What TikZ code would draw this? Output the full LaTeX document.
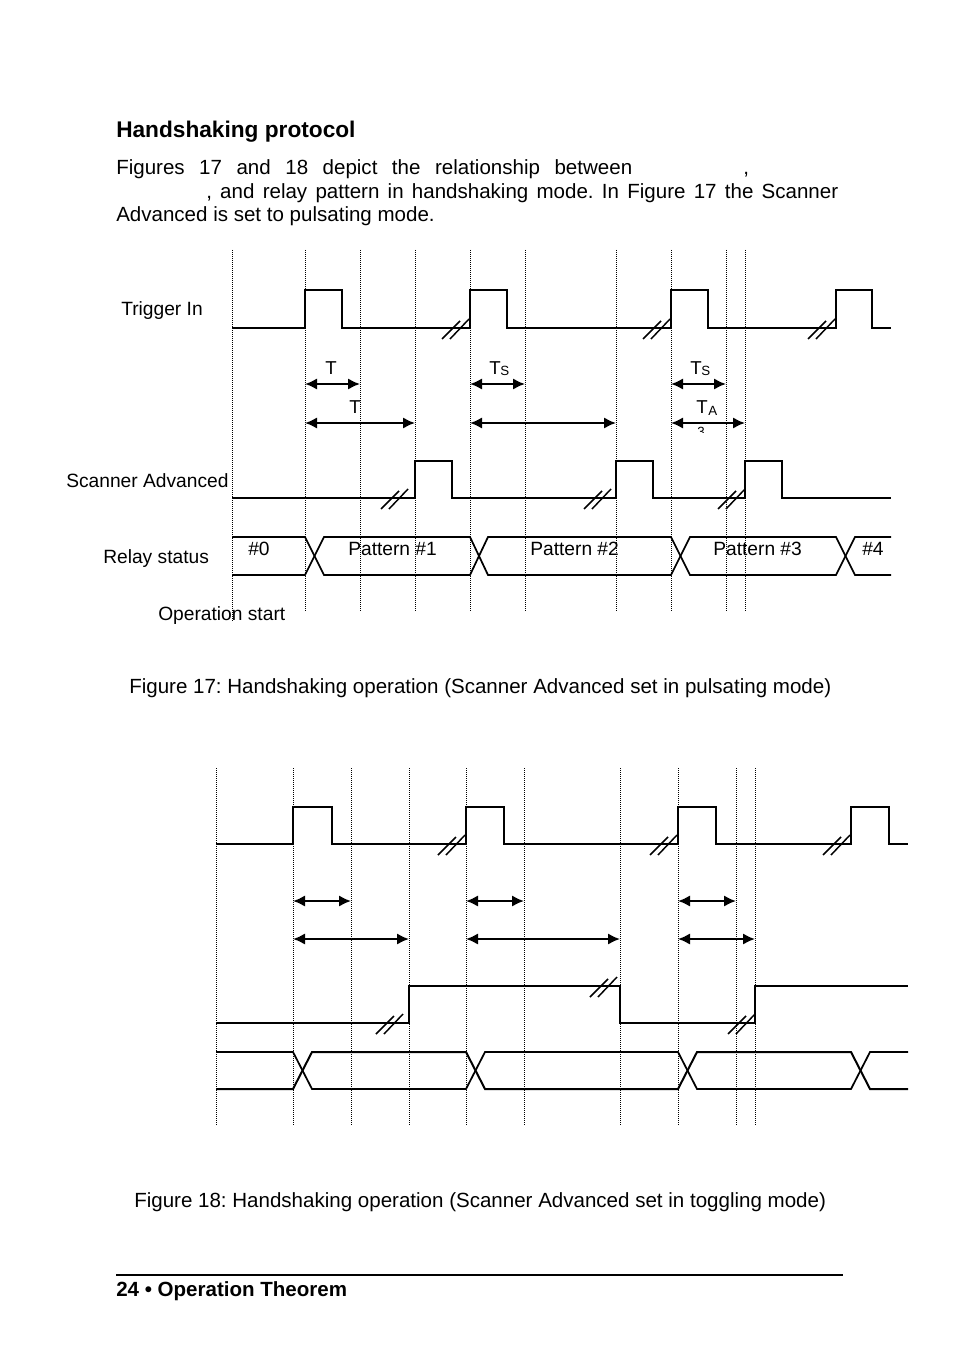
\documentclass[tikz,border=0pt]{standalone}
\usepackage{fontspec}
\setmainfont{Liberation Sans}
\usetikzlibrary{arrows.meta}
\frenchspacing
\newcommand{\brkmark}[2]{%
  \draw[brk] ({#1-27},{#2+11}) -- ({#1-9},{#2-7});
  \draw[brk] ({#1-19},{#2+11}) -- ({#1},{#2-9});}
\begin{document}
\frenchspacing
\begin{tikzpicture}[x=0.75pt,y=-0.75pt,
  sig/.style={line width=1.5pt, line join=miter},
  rel/.style={line width=1.3pt, line join=miter},
  vgrid/.style={line width=0.75pt, dash pattern=on 0.75pt off 0.75pt, black},
  dimarrow/.style={line width=1.6pt, {Latex[length=9pt,width=8.5pt]}-{Latex[length=9pt,width=8.5pt]}},
  brk/.style={line width=1.1pt},
  lbl/.style={font=\fontsize{14.4}{17}\selectfont, inner sep=0pt, anchor=base west},
  body/.style={font=\fontsize{15.4}{18}\selectfont, inner sep=0pt, anchor=base west},
  tlbl/.style={font=\fontsize{14}{16}\selectfont, inner sep=0pt, anchor=base west},
  subs/.style={font=\fontsize{10}{12}\selectfont, inner sep=0pt, anchor=base west}]
\useasboundingbox (0,0) rectangle (954,1358);

% ---------- text ----------
\node[body, font=\fontsize{17}{20}\selectfont\bfseries] (head) at (116,138) {Handshaking protocol};
\node[body] (l1) at (116,175) {\makebox[387pt][s]{Figures 17 and 18 depict the relationship between}};
\node[body] (l1c) at (743,175) {,};
\node[body] (l2) at (206,199) {\makebox[474pt][s]{, and relay pattern in handshaking mode. In Figure 17 the Scanner}};
\node[body] (l3) at (116,222) {Advanced is set to pulsating mode.};

% ---------- Figure 17 ----------
\foreach \xx in {305,360,415,470,525,616,671,726,745} {\draw[vgrid] (\xx,250) -- (\xx,612);}
\draw[vgrid] (232,250) -- (232,622);

\node[lbl] (trig) at (121,316) {Trigger In};
\node[lbl] (scan) at (66,487) {Scanner Advanced};
\node[lbl] (relay) at (103,563) {Relay status};
\node[lbl] (opst) at (158,620) {Operation start};

\draw[sig] (232,328) -- (305,328) -- (305,290) -- (342,290) -- (342,328) -- (470,328) -- (470,290) -- (507,290) -- (507,328)
  -- (671,328) -- (671,290) -- (708,290) -- (708,328) -- (836,328) -- (836,290) -- (872,290) -- (872,328) -- (891,328);
\brkmark{469}{328} \brkmark{670}{328} \brkmark{835}{328}

\draw[sig] (232,498) -- (415,498) -- (415,461) -- (452,461) -- (452,498) -- (616,498) -- (616,461) -- (653,461) -- (653,498)
  -- (745,498) -- (745,461) -- (782,461) -- (782,498) -- (891,498);
\brkmark{408}{498} \brkmark{611}{498} \brkmark{745}{498}

\draw[rel] (232,537) -- (305,537) -- (324,575) -- (470,575) -- (488,537) -- (671,537) -- (690,575) -- (836,575) -- (855,537) -- (891,537);
\draw[rel] (232,575) -- (305,575) -- (324,537) -- (470,537) -- (488,575) -- (671,575) -- (690,537) -- (836,537) -- (855,575) -- (891,575);

\node[lbl] (r0) at (248,555) {\#0};
\node[lbl] (r1) at (348,555) {Pattern \#1};
\node[lbl] (r2) at (530,555) {Pattern \#2};
\node[lbl] (r3) at (713,555) {Pattern \#3};
\node[lbl] (r4) at (862,555) {\#4};

\foreach \i/\xa/\xb/\yy in {1/305/360/384, 2/470/525/384, 3/671/726/384, 4/305/415/423, 5/470/616/423, 6/671/745/423} {
  \coordinate (da\i) at (\xa,\yy);
  \coordinate (db\i) at (\xb,\yy);
  \draw[dimarrow] (da\i) -- (db\i);
}
\node[tlbl] (t1) at (325,374) {T};
\node[tlbl] (t2) at (349,413) {T};
\node[tlbl] (t3) at (489,374) {T};
\node[subs] (t3s) at (500,376) {S};
\node[tlbl] (t4) at (690,374) {T};
\node[subs] (t4s) at (701,376) {S};
\node[tlbl] (t5) at (696,413) {T};
\node[subs] (t5s) at (708,415) {A};
\begin{scope}
  \clip (690,425) rectangle (715,432);
  \node[font=\fontsize{10}{12}\selectfont, inner sep=0pt, anchor=north] (t6) at (701,427) {3};
\end{scope}

\node[body] (cap17) at (129,693) {Figure 17: Handshaking operation (Scanner Advanced set in pulsating mode)};

% ---------- Figure 18 ----------
\foreach \xx in {216,293,351,409,466,524,620,678,736,755} {\draw[vgrid] (\xx,768) -- (\xx,1125);}

\draw[sig] (216,844) -- (293,844) -- (293,807) -- (332,807) -- (332,844) -- (466,844) -- (466,807) -- (504,807) -- (504,844)
  -- (678,844) -- (678,807) -- (716,807) -- (716,844) -- (851,844) -- (851,807) -- (889,807) -- (889,844) -- (908,844);
\brkmark{465}{844} \brkmark{677}{844} \brkmark{850}{844}

\draw[sig] (216,1023) -- (409,1023) -- (409,986) -- (620,986) -- (620,1023) -- (755,1023) -- (755,986) -- (908,986);
\brkmark{403}{1023} \brkmark{617}{986} \brkmark{755}{1023}

\draw[rel] (216,1052) -- (293,1052) -- (312,1089) -- (466,1089) -- (485,1052) -- (678,1052) -- (697,1089) -- (851,1089) -- (870,1052) -- (908,1052);
\draw[sig] (216,1089) -- (293,1089) -- (312,1052) -- (466,1052) -- (485,1089) -- (678,1089) -- (697,1052) -- (851,1052) -- (870,1089) -- (908,1089);

\foreach \i/\xa/\xb/\yy in {7/293/351/901, 8/466/524/901, 9/678/736/901, 10/293/409/939, 11/466/620/939, 12/678/755/939} {
  \coordinate (da\i) at (\xa,\yy);
  \coordinate (db\i) at (\xb,\yy);
  \draw[dimarrow] (da\i) -- (db\i);
}

\node[body] (cap18) at (134,1207) {Figure 18: Handshaking operation (Scanner Advanced set in toggling mode)};

% ---------- footer ----------
\coordinate (rulea) at (116,1275);
\coordinate (ruleb) at (843,1275);
\draw[line width=1.5pt] (rulea) -- (ruleb);
\node[body, font=\fontsize{15.4}{18}\selectfont\bfseries] (foot) at (116,1296) {24 \textbullet\ Operation Theorem};
\end{tikzpicture}
\end{document}
